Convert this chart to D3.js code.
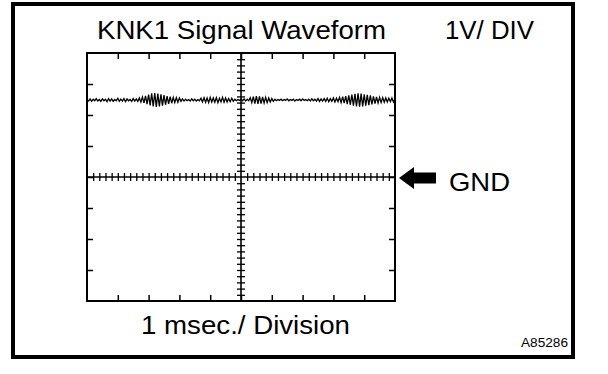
<!DOCTYPE html>
<html><head><meta charset="utf-8">
<script src="https://cdn.jsdelivr.net/npm/d3@7"></script>
<style>
html,body{margin:0;padding:0;background:#fff;}
svg{display:block;}
text{font-family:"Liberation Sans",Arial,Helvetica,sans-serif;fill:#000;}
</style></head>
<body>
<script>
// Data
const titleText = "KNK1 Signal Waveform";
const scaleText = "1V/ DIV";
const timeText = "1 msec./ Division";
const gndText = "GND";
const figId = "A85286";
const timeDomain = [0, 10];      // ms, 10 divisions
const voltDomain = [-4, 4];      // V, 8 divisions (GND at 0)
const majorTicksX = [1,2,3,4,5,6,7,8,9];
const majorTicksY = [-3,-2,-1,0,1,2,3];
const sampleStep = 0.05; // ms
const signalVolts = [
2.50,2.45,2.52,2.44,2.51,2.46,2.53,2.45,2.50,2.44,
2.52,2.46,2.51,2.43,2.53,2.45,2.52,2.44,2.50,2.46,
2.54,2.44,2.51,2.45,2.53,2.43,2.52,2.46,2.50,2.44,
2.53,2.45,2.52,2.44,
2.55,2.42,2.58,2.39,2.62,2.35,2.66,2.31,2.70,2.28,
2.71,2.26,2.69,2.28,2.67,2.30,2.64,2.33,2.61,2.36,
2.59,2.38,2.57,2.40,2.56,2.41,2.55,
2.44,2.52,2.45,2.51,2.46,2.50,2.45,2.52,2.46,2.51,2.45,2.50,2.46,
2.54,2.42,2.56,2.41,2.55,2.40,2.57,2.42,2.55,2.41,
2.56,2.40,2.54,2.42,2.57,2.41,2.55,2.42,2.53,2.43,
2.54,2.44,
2.51,2.46,2.50,2.47,2.51,2.46,2.52,2.45,2.51,2.46,
2.56,2.40,2.59,2.37,2.61,2.36,2.60,2.37,2.58,2.39,
2.57,2.40,2.55,2.42,2.53,2.44,
2.51,2.46,2.50,2.47,2.51,2.46,2.50,2.47,2.52,2.46,
2.50,2.47,2.51,2.45,2.50,2.47,2.51,2.46,2.52,2.47,
2.50,2.46,2.51,2.45,2.52,2.46,2.51,2.45,2.53,2.44,
2.52,2.45,2.53,2.44,2.54,2.43,2.53,2.44,2.55,2.42,
2.54,2.43,
2.57,2.40,2.59,2.38,2.61,2.35,2.63,2.33,2.66,2.30,
2.68,2.28,2.70,2.27,2.69,2.28,2.67,2.30,2.65,2.32,
2.63,2.34,2.60,2.37,2.58,2.39,2.57,2.40,2.56,2.41,
2.55,2.42,2.54,2.43,2.55,2.42,2.53
];

const W = 608, H = 374;
const svg = d3.select("body").append("svg").attr("width", W).attr("height", H);

// outer frame
svg.append("rect").attr("x", 13).attr("y", 4).attr("width", 560).attr("height", 353)
  .attr("fill", "none").attr("stroke", "#000").attr("stroke-width", 4);

const x = d3.scaleLinear().domain(timeDomain).range([87, 395]);
const y = d3.scaleLinear().domain(voltDomain).range([301, 53]);

// plot frame
svg.append("rect").attr("x", x(0)).attr("y", y(4)).attr("width", x(10)-x(0)).attr("height", y(-4)-y(4))
  .attr("fill", "none").attr("stroke", "#000").attr("stroke-width", 2);

function styleAxis(g, w) {
  g.select(".domain").remove();
  g.selectAll(".tick line").attr("stroke", "#000").attr("stroke-width", w || 1.5);
  g.selectAll(".tick text").remove();
}
// border ticks pointing inward
svg.append("g").attr("transform", `translate(0,${y(4)})`)
  .call(d3.axisBottom(x).tickValues(majorTicksX).tickSize(6).tickFormat("")).call(styleAxis);
svg.append("g").attr("transform", `translate(0,${y(-4)})`)
  .call(d3.axisTop(x).tickValues(majorTicksX).tickSize(6).tickFormat("")).call(styleAxis);
svg.append("g").attr("transform", `translate(${x(0)},0)`)
  .call(d3.axisRight(y).tickValues(majorTicksY).tickSize(6).tickFormat("")).call(styleAxis);
svg.append("g").attr("transform", `translate(${x(10)},0)`)
  .call(d3.axisLeft(y).tickValues(majorTicksY).tickSize(6).tickFormat("")).call(styleAxis);

// center cross lines with minor ticks
const minorX = d3.range(1, 50).map(i => i * 0.2).filter(v => Math.abs(v - 5) > 1e-9);
const minorY = d3.range(-19, 20).map(i => i * 0.2).filter(v => Math.abs(v) > 1e-9);
svg.append("line").attr("x1", x(0)).attr("x2", x(10)).attr("y1", y(0)).attr("y2", y(0))
  .attr("stroke", "#000").attr("stroke-width", 1.6);
svg.append("line").attr("x1", x(5)).attr("x2", x(5)).attr("y1", y(4)).attr("y2", y(-4))
  .attr("stroke", "#000").attr("stroke-width", 1.6);
svg.append("g").attr("transform", `translate(0,${y(0)+4})`)
  .call(d3.axisTop(x).tickValues(minorX).tickSize(8).tickFormat("")).call(g => styleAxis(g, 1.3));
svg.append("g").attr("transform", `translate(${x(5)-4},0)`)
  .call(d3.axisRight(y).tickValues(minorY).tickSize(8).tickFormat("")).call(g => styleAxis(g, 1.3));

// waveform
const line = d3.line().x((d, i) => x(i * sampleStep)).y(d => y(d));
svg.append("path").datum(signalVolts).attr("d", line)
  .attr("fill", "none").attr("stroke", "#000").attr("stroke-width", 1.3);

// texts
function addText(tx, ty, size, str, len) {
  svg.append("text").attr("x", tx).attr("y", ty).attr("font-size", size)
    .attr("textLength", len).attr("lengthAdjust", "spacingAndGlyphs").text(str);
}
addText(97, 39, 25, titleText, 289);
addText(445, 39, 25, scaleText, 89);
addText(141, 334, 25, timeText, 209);
addText(449, 191, 25, gndText, 61);
addText(521, 347, 12, figId, 47);

// arrow pointing to GND
const ay = y(0) + 1;
svg.append("path")
  .attr("d", `M399,${ay} L414,${ay-11} L414,${ay-5.5} L436,${ay-5.5} L436,${ay+5.5} L414,${ay+5.5} L414,${ay+11} Z`)
  .attr("fill", "#000");
</script>
</body></html>
